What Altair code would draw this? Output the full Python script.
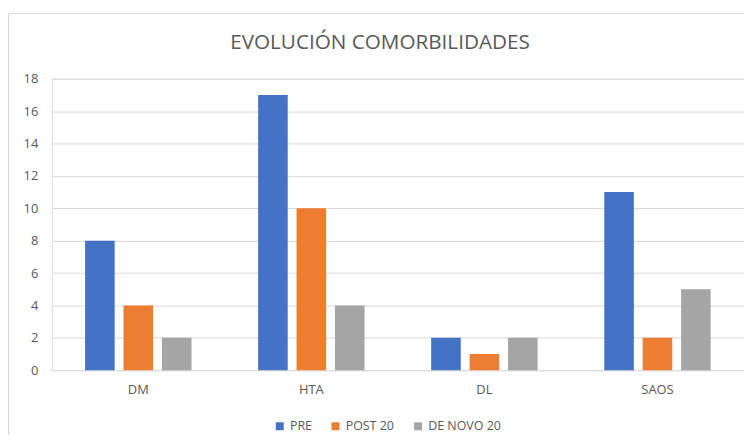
import altair as alt
import pandas as pd

categories = ["DM", "HTA", "DL", "SAOS"]
series = ["PRE", "POST 20", "DE NOVO 20"]
pre = [8, 17, 2, 11]
post20 = [4, 10, 1, 2]
denovo20 = [2, 4, 2, 5]
colors = ["#4472C4", "#ED7D31", "#A5A5A5"]
y_ticks = [0, 2, 4, 6, 8, 10, 12, 14, 16, 18]
title_text = "EVOLUCIÓN COMORBILIDADES"

rows = []
for s, vals in zip(series, [pre, post20, denovo20]):
    for c, v in zip(categories, vals):
        rows.append({"cat": c, "serie": s, "valor": v})
df = pd.DataFrame(rows)

FONT = "Open Sans"
TXT = "#595959"

bars = alt.Chart(df).mark_bar().encode(
    x=alt.X("cat:N", sort=categories,
            scale=alt.Scale(paddingInner=0.385, paddingOuter=0.1925),
            axis=alt.Axis(title=None, labelAngle=0, domain=False, ticks=False,
                          labelPadding=13, labelFontSize=13, labelColor=TXT,
                          labelFont=FONT, grid=False)),
    xOffset=alt.XOffset("serie:N", sort=series,
                        scale=alt.Scale(paddingInner=0.23, paddingOuter=0)),
    y=alt.Y("valor:Q", scale=alt.Scale(domain=[0, 18]),
            axis=alt.Axis(title=None, values=y_ticks, domain=False, ticks=False,
                          labelPadding=14, labelFontSize=13, labelColor=TXT,
                          labelFont=FONT, gridColor="#D9D9D9", gridWidth=1)),
    color=alt.Color("serie:N", sort=series,
                    scale=alt.Scale(domain=series, range=colors),
                    legend=alt.Legend(title=None, orient="none", direction="horizontal",
                                      legendX=223, legendY=343, padding=0,
                                      symbolType="square", symbolSize=64,
                                      symbolStrokeWidth=0, labelFontSize=12.5,
                                      labelColor=TXT, labelFont=FONT,
                                      columnPadding=17, labelOffset=4)),
)

single = alt.Data(values=[{"t": title_text}])
title_mark = alt.Chart(single).mark_text(
    font=FONT, fontSize=20.8, color=TXT, align="center", baseline="alphabetic"
).encode(text="t:N", x=alt.value(330), y=alt.value(-30))

left_border = alt.Chart(single).mark_rule(color="#D9D9D9", strokeWidth=1).encode(
    x=alt.value(-43.5), y=alt.value(-65.5), y2=alt.value(420))
top_border = alt.Chart(single).mark_rule(color="#D9D9D9", strokeWidth=1).encode(
    x=alt.value(-43.5), x2=alt.value(720), y=alt.value(-65.5))

chart = alt.layer(bars, title_mark, left_border, top_border).properties(
    width=696, height=293,
    autosize=alt.AutoSizeParams(type="none"),
    padding={"left": 44, "top": 70, "right": 0, "bottom": 64},
).configure_view(stroke=None).configure(background="white")

chart.save("out.html", embed_options={"renderer": "svg", "actions": False})
